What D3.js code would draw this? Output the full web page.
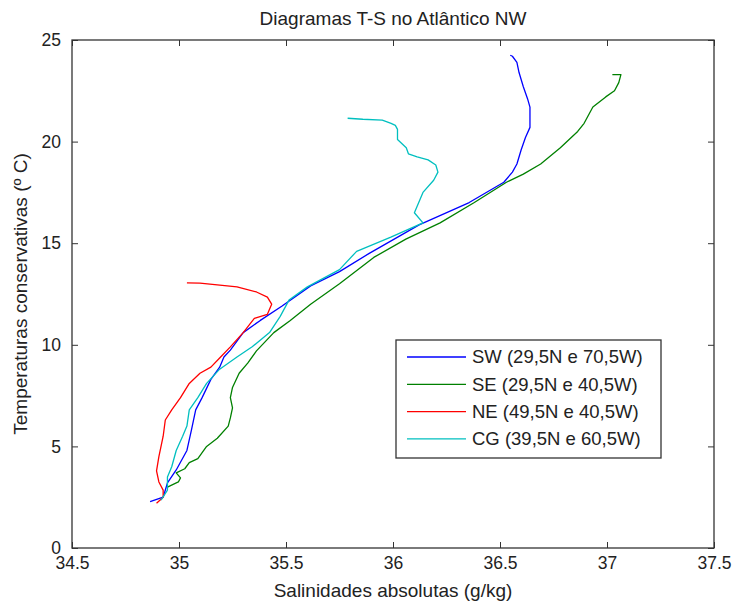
<!DOCTYPE html>
<html>
<head>
<meta charset="utf-8">
<script src="https://cdn.jsdelivr.net/npm/d3@7"></script>
<style>
  body { margin: 0; background: #fff; }
  text { font-family: "Liberation Sans", Arial, sans-serif; fill: #222; }
</style>
</head>
<body>
<svg id="chart" width="734" height="601"></svg>
<script>
// salinity (g/kg) and conservative temperature (ºC)
var swS = [34.865, 34.926, 34.946, 34.987, 35.037, 35.058, 35.078, 35.108, 35.149, 35.19, 35.21, 35.24, 35.30, 35.38, 35.48, 35.615, 35.75, 35.889, 36.122, 36.356, 36.518, 36.558, 36.579, 36.599, 36.619, 36.64, 36.64, 36.629, 36.609, 36.589, 36.579, 36.558, 36.548];
var swT = [2.28, 2.5, 3.2, 3.84, 4.8, 5.8, 6.8, 7.4, 8.3, 8.9, 9.4, 9.74, 10.6, 11.2, 11.9, 12.9, 13.6, 14.5, 15.9, 17.0, 18.0, 18.5, 18.9, 19.6, 20.2, 20.7, 21.7, 22.1, 22.7, 23.4, 23.9, 24.2, 24.25];

var seS = [34.946, 34.997, 35.007, 34.987, 35.027, 35.048, 35.088, 35.129, 35.179, 35.23, 35.24, 35.25, 35.24, 35.25, 35.281, 35.321, 35.362, 35.443, 35.52, 35.615, 35.75, 35.91, 36.06, 36.22, 36.38, 36.53, 36.609, 36.69, 36.782, 36.863, 36.893, 36.934, 36.994, 37.035, 37.055, 37.065, 37.025];
var seT = [3.0, 3.25, 3.45, 3.7, 3.9, 4.2, 4.4, 5.0, 5.4, 6.0, 6.4, 6.9, 7.4, 7.9, 8.6, 9.1, 9.7, 10.6, 11.2, 12.0, 13.0, 14.3, 15.2, 16.0, 17.0, 18.0, 18.4, 18.9, 19.7, 20.5, 20.9, 21.7, 22.2, 22.5, 22.9, 23.3, 23.3];

var neS = [34.895, 34.926, 34.926, 34.906, 34.895, 34.906, 34.926, 34.936, 34.966, 35.007, 35.048, 35.098, 35.149, 35.19, 35.24, 35.30, 35.352, 35.413, 35.433, 35.413, 35.362, 35.271, 35.179, 35.098, 35.037];
var neT = [2.2, 2.5, 2.85, 3.25, 3.8, 4.5, 5.5, 6.3, 6.8, 7.4, 8.1, 8.6, 8.9, 9.35, 9.9, 10.6, 11.3, 11.5, 12.0, 12.35, 12.6, 12.85, 12.95, 13.04, 13.05];

var cgS = [34.916, 34.946, 34.946, 34.966, 34.987, 35.017, 35.037, 35.048, 35.088, 35.129, 35.19, 35.271, 35.342, 35.423, 35.473, 35.514, 35.60, 35.75, 35.83, 35.99, 36.14, 36.10, 36.14, 36.19, 36.21, 36.20, 36.164, 36.113, 36.072, 36.062, 36.031, 36.021, 36.021, 36.011, 35.991, 35.95, 35.859, 35.788];
var cgT = [2.36, 2.85, 3.5, 4.0, 4.8, 5.5, 6.0, 6.8, 7.4, 8.1, 8.8, 9.4, 9.9, 10.6, 11.4, 12.2, 12.85, 13.7, 14.6, 15.3, 16.0, 16.5, 17.5, 18.1, 18.5, 18.85, 19.1, 19.25, 19.4, 19.7, 20.0, 20.1, 20.6, 20.8, 20.9, 21.06, 21.1, 21.15];

var seriesNames = ["SW (29,5N e 70,5W)", "SE (29,5N e 40,5W)", "NE (49,5N e 40,5W)", "CG (39,5N e 60,5W)"];
var seriesColors = ["#0000ff", "#008000", "#ff0000", "#00bfbf"];
var xTicks = [34.5, 35, 35.5, 36, 36.5, 37, 37.5];
var yTicks = [0, 5, 10, 15, 20, 25];

var series = [[swS, swT], [seS, seT], [neS, neT], [cgS, cgT]].map(function (p, i) {
    return { name: seriesNames[i], color: seriesColors[i], pts: p[0].map(function (s, j) { return [s, p[1][j]]; }) };
});

var svg = d3.select("#chart");
var margin = { left: 72, top: 40, right: 20, bottom: 53 };
var W = 734 - margin.left - margin.right,
    H = 601 - margin.top - margin.bottom;

var x = d3.scaleLinear().domain([34.5, 37.5]).range([0, W]);
var y = d3.scaleLinear().domain([0, 25]).range([H, 0]);

var g = svg.append("g").attr("transform", "translate(" + margin.left + "," + margin.top + ")");

// inner ticks on all four sides, matlab style
function styleAxis(sel) {
    sel.select(".domain").remove();
    sel.selectAll(".tick line").attr("stroke", "#333");
    sel.selectAll(".tick text").attr("font-size", 17.5).attr("fill", "#222")
        .style("font-family", "'Liberation Sans', Arial, sans-serif");
}
g.append("g").attr("transform", "translate(0," + H + ")")
    .call(d3.axisBottom(x).tickValues(xTicks).tickSize(-6).tickPadding(9).tickFormat(d3.format("")))
    .call(styleAxis);
g.append("g")
    .call(d3.axisTop(x).tickValues(xTicks).tickSize(-6).tickFormat(""))
    .call(styleAxis);
g.append("g")
    .call(d3.axisLeft(y).tickValues(yTicks).tickSize(-6).tickPadding(11))
    .call(styleAxis);
g.append("g").attr("transform", "translate(" + W + ",0)")
    .call(d3.axisRight(y).tickValues(yTicks).tickSize(-6).tickFormat(""))
    .call(styleAxis);

var line = d3.line().x(function (d) { return x(d[0]); }).y(function (d) { return y(d[1]); });

g.selectAll(".ts").data(series).enter().append("path")
    .attr("class", "ts")
    .attr("d", function (d) { return line(d.pts); })
    .attr("fill", "none")
    .attr("stroke", function (d) { return d.color; })
    .attr("stroke-width", 1.3)
    .attr("stroke-linejoin", "round");

g.append("rect").attr("width", W).attr("height", H)
    .attr("fill", "none").attr("stroke", "#333").attr("stroke-width", 1.3);

// legend
var leg = g.append("g").attr("transform", "translate(" + (396 - margin.left) + "," + (340 - margin.top) + ")");
leg.append("rect").attr("width", 265).attr("height", 118)
    .attr("fill", "#fff").attr("stroke", "#333").attr("stroke-width", 1.3);
var item = leg.selectAll(".item").data(series).enter().append("g")
    .attr("transform", function (d, i) { return "translate(0," + (17 + i * 27.3) + ")"; });
item.append("line").attr("x1", 11).attr("x2", 70)
    .attr("stroke", function (d) { return d.color; }).attr("stroke-width", 1.3);
item.append("text").attr("x", 76).attr("dy", "0.35em").attr("font-size", 18.5)
    .text(function (d) { return d.name; });

svg.append("text").attr("x", margin.left + W / 2).attr("y", 25).attr("text-anchor", "middle")
    .attr("font-size", 19).text("Diagramas T-S no Atlântico NW");
svg.append("text").attr("x", margin.left + W / 2).attr("y", 597).attr("text-anchor", "middle")
    .attr("font-size", 19).text("Salinidades absolutas (g/kg)");
svg.append("text").attr("transform", "translate(27," + (margin.top + H / 2) + ") rotate(-90)")
    .attr("text-anchor", "middle").attr("font-size", 19).text("Temperaturas conservativas (º C)");
</script>
</body>
</html>
